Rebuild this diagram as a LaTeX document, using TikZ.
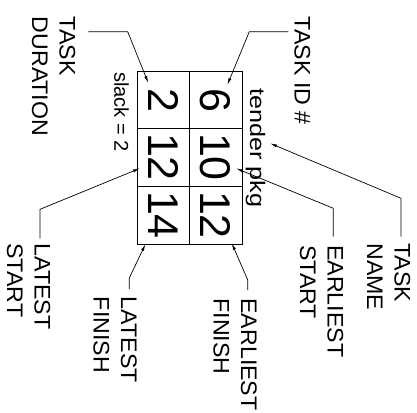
\documentclass[tikz,border=0pt]{standalone}
\usepackage{fontspec}
\setmainfont{Liberation Sans}
\usetikzlibrary{arrows.meta}
\begin{document}
\begin{tikzpicture}[x=1pt,y=-1pt,
  lbl/.style={rotate=-90, anchor=north west, inner sep=0pt, align=left, font=\fontsize{22.5}{27.5}\selectfont},
  num/.style={rotate=-90, anchor=center, inner sep=0pt, font=\fontsize{43}{43}\selectfont},
  small/.style={rotate=-90, anchor=north west, inner sep=0pt, font=\fontsize{20}{24}\selectfont},
  lead/.style={line width=0.7pt, -{Latex[length=7pt,width=3pt]}},
  gridline/.style={line width=0.9pt}]
\useasboundingbox (0,0) rectangle (417,412);
% grid
\draw[gridline] (137,71) rectangle (242,244);
\draw[gridline] (189.5,71) -- (189.5,244);
\draw[gridline] (137,128.5) -- (242,128.5);
\draw[gridline] (137,186) -- (242,186);
% numbers
\node[num] (dur) at (163.25,100) {2};
\node[num] (ls)  at (163.25,157) {12};
\node[num] (lf)  at (163.25,215) {14};
\node[num] (id)  at (215.75,100) {6};
\node[num] (es)  at (215.75,157) {10};
\node[num] (ef)  at (215.75,215) {12};
% inner texts
\node[small] (slack) at (129,72) {slack = 2};
\node[small, font=\fontsize{21}{24}\selectfont] (tname) at (265.5,88) {\scalebox{1.2}[1]{tender pkg}};
% labels
\node[lbl] (Ltd) at (75.5,16.7) {\scalebox{1.03}[1]{TASK}\\\scalebox{1.03}[1]{DURATION}};
\node[lbl] (Lid) at (310.5,16.7) {\scalebox{1.03}[1]{TASK ID \#}};
\node[lbl] (Ltn) at (410.5,243.3) {\scalebox{1.03}[1]{TASK}\\\scalebox{1.03}[1]{NAME}};
\node[lbl] (Les) at (343.5,245) {\scalebox{1.03}[1]{EARLIEST}\\\scalebox{1.03}[1]{START}};
\node[lbl] (Lef) at (257,298.3) {\scalebox{1.03}[1]{EARLIEST}\\\scalebox{1.03}[1]{FINISH}};
\node[lbl] (Llf) at (137,296.7) {\scalebox{1.03}[1]{LATEST}\\\scalebox{1.03}[1]{FINISH}};
\node[lbl] (Lls) at (50.5,243.3) {\scalebox{1.03}[1]{LATEST}\\\scalebox{1.03}[1]{START}};
% leader coordinates
\coordinate (a1) at (88.3,31.7);  \coordinate (b1) at (127.7,31.7);  \coordinate (t1) at (148.3,83);
\coordinate (a2) at (288.3,31.7); \coordinate (b2) at (249.3,31.7);  \coordinate (t2) at (227.3,85);
\coordinate (a3) at (401,236.7);  \coordinate (b3) at (401,198.3);   \coordinate (t3) at (270,143.3);
\coordinate (a4) at (333.3,236.7);\coordinate (b4) at (333.3,208.3); \coordinate (t4) at (236,168.3);
\coordinate (a5) at (247.7,290);  \coordinate (b5) at (247.7,280);   \coordinate (t5) at (231.7,243);
\coordinate (a6) at (129.3,289);  \coordinate (b6) at (129.3,278);   \coordinate (t6) at (145.5,244);
\coordinate (a7) at (40,238.3);   \coordinate (b7) at (40,209.3);    \coordinate (t7) at (140,168.3);
\draw[lead] (a1) -- (b1) -- (t1);
\draw[lead] (a2) -- (b2) -- (t2);
\draw[lead] (a3) -- (b3) -- (t3);
\draw[lead] (a4) -- (b4) -- (t4);
\draw[lead] (a5) -- (b5) -- (t5);
\draw[lead] (a6) -- (b6) -- (t6);
\draw[lead] (a7) -- (b7) -- (t7);
\end{tikzpicture}
\end{document}
